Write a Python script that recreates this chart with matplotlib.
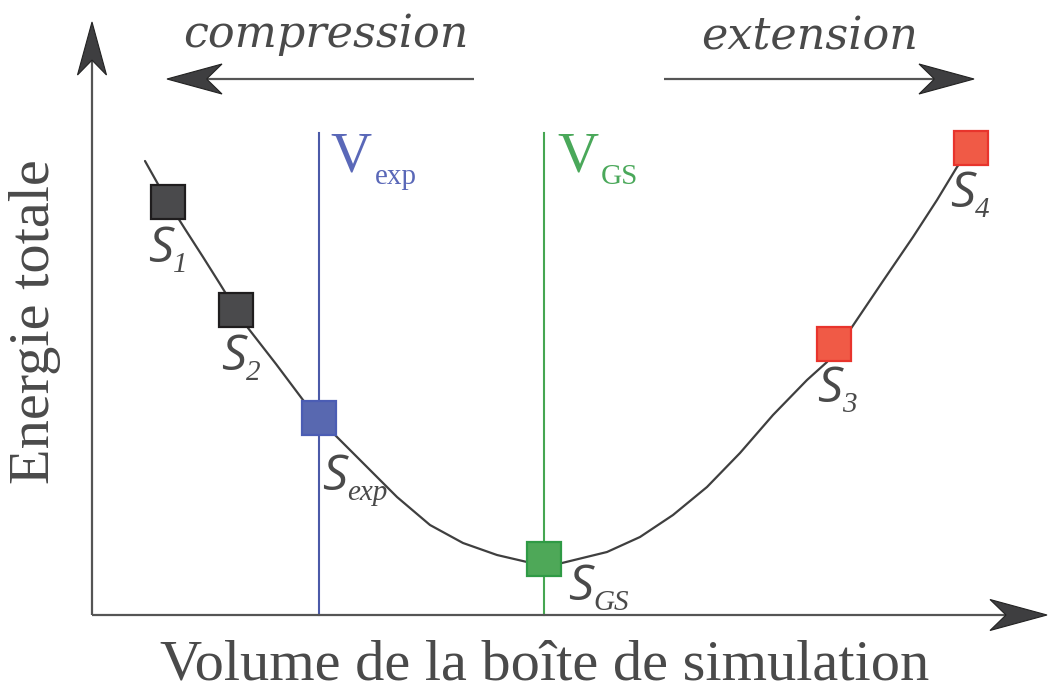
import matplotlib
matplotlib.use("Agg")
import matplotlib.pyplot as plt
from matplotlib.patches import Polygon
import numpy as np

# ---------------- data (arbitrary units) ----------------
state_labels = ["1", "2", "exp", "GS", "3", "4"]
state_volume = [0.76, 1.44, 2.27, 4.52, 7.42, 8.79]
state_energy = [4.13, 3.05, 1.97, 0.56, 2.71, 4.67]
state_fill = ["#4a4a4c", "#4a4a4c", "#5868b0", "#4ea858", "#f05a46", "#f05a46"]
state_edge = ["#1f1d1e", "#1f1d1e", "#4b5db4", "#2f9a45", "#e8342c", "#e8342c"]

curve_volume = [0.53, 0.76, 0.93, 1.11, 1.28, 1.44, 1.56, 1.84, 2.11, 2.27,
                2.43, 2.71, 3.05, 3.38, 3.71, 4.05, 4.35, 4.52, 4.70, 5.15,
                5.48, 5.81, 6.15, 6.48, 6.81, 7.15, 7.35, 7.60, 7.91, 8.21,
                8.45, 8.65, 8.79]
curve_energy = [4.54, 4.13, 3.86, 3.58, 3.31, 3.05, 2.87, 2.51, 2.15, 1.97,
                1.80, 1.52, 1.18, 0.90, 0.72, 0.60, 0.53, 0.51, 0.52, 0.63,
                0.78, 1.00, 1.28, 1.62, 2.00, 2.35, 2.53, 2.88, 3.34, 3.78,
                4.15, 4.48, 4.67]

v_exp = 2.27
v_gs = 4.52
v_line_top = 4.82

TXT = "#4a4a4a"
BLUE = "#4b5aa8"
GREEN = "#46a652"
HEAD = "#3e3e40"

W, H = 1050, 689
fig = plt.figure(figsize=(W / 100, H / 100), dpi=100)
ox, oy = 92, 615
ax = fig.add_axes([ox / W, (H - oy) / H, (W - ox) / W, oy / H])
ax.set_xlim(0, (W - ox) / 100)
ax.set_ylim(0, oy / 100)
ax.axis("off")


def arrow(x0, y0, x1, y1, hl, hw):
    """Line with dart-shaped head, lengths in data units."""
    d = np.array([x1 - x0, y1 - y0], float)
    L = np.hypot(*d)
    u = d / L
    n = np.array([-u[1], u[0]])
    tip = np.array([x1, y1])
    back = tip - u * hl
    notch = tip - u * hl * 0.72
    ax.plot([x0, notch[0]], [y0, notch[1]], color="#555555", lw=1.6,
            solid_capstyle="butt", clip_on=False, zorder=2)
    pts = [tip, back + n * hw / 2, notch, back - n * hw / 2]
    ax.add_patch(Polygon(pts, closed=True, facecolor=HEAD, edgecolor="#222222",
                         lw=0.8, clip_on=False, zorder=3, joinstyle="miter"))


# axes arrows
arrow(0, 0, 9.55, 0, 0.57, 0.31)
arrow(0, 0, 0, 5.93, 0.53, 0.29)
# compression / extension arrows
arrow(3.82, 5.36, 0.75, 5.36, 0.55, 0.30)
arrow(5.72, 5.36, 8.82, 5.36, 0.55, 0.30)

# vertical lines
ax.plot([v_exp, v_exp], [0, v_line_top], color=BLUE, lw=1.5, zorder=1, clip_on=False)
ax.plot([v_gs, v_gs], [0, v_line_top], color=GREEN, lw=1.5, zorder=1, clip_on=False)

# curve
ax.plot(curve_volume, curve_energy, color="#3f3f3f", lw=1.6, zorder=2,
        clip_on=False, solid_joinstyle="round", solid_capstyle="round")

# states
for v, e, fc, ec in zip(state_volume, state_energy, state_fill, state_edge):
    ax.plot([v], [e], "s", ms=24, mfc=fc, mec=ec, mew=1.6, zorder=4, clip_on=False)


def sub_label(x, y, main, sub, color, main_font, main_style, main_size,
              sub_font, sub_style, sub_size, drop, gap=0):
    t = ax.text(x, y, main, fontsize=main_size, family=main_font, style=main_style,
                color=color, ha="left", va="baseline", clip_on=False, zorder=5)
    ax.annotate(sub, xy=(1, 0), xycoords=t, xytext=(gap, -drop),
                textcoords="offset points", fontsize=sub_size, family=sub_font,
                style=sub_style, color=color, ha="left", va="baseline",
                annotation_clip=False, zorder=5)


label_offsets = [(-0.20, -0.60), (-0.15, -0.60), (0.03, -0.72), (0.24, -0.41),
                 (-0.17, -0.58), (-0.21, -0.59)]
for lab, v, e, (dx, dy) in zip(state_labels, state_volume, state_energy, label_offsets):
    sub_label(v + dx, e + dy, "S", lab, TXT, "Open Sans", "italic", 36,
              "Liberation Serif", "italic", 21, -1.4, gap=0)

# V labels
sub_label(v_exp + 0.115, 4.43, "V", "exp", "#5a68b8", "Liberation Serif", "normal", 41,
          "Liberation Serif", "normal", 21, -0.3, gap=2)
sub_label(v_gs + 0.13, 4.43, "V", "GS", "#4aa85a", "Liberation Serif", "normal", 41,
          "Liberation Serif", "normal", 21, -0.3, gap=2)

# direction texts
ax.text(2.34, 5.68, "compression", fontsize=32, style="italic",
        family="DejaVu Serif", color=TXT, ha="center", va="baseline")
ax.text(7.18, 5.65, "extension", fontsize=32, style="italic",
        family="DejaVu Serif", color=TXT, ha="center", va="baseline")

# axis titles
ax.text(4.53, -0.64, "Volume de la boîte de simulation", fontsize=42,
        family="Liberation Serif", color=TXT, ha="center", va="baseline")
ax.text(-0.57, 2.93, "Energie totale", fontsize=42, rotation=90,
        family="Liberation Serif", color=TXT, ha="center", va="center")

fig.savefig("out.png", dpi=100, facecolor="white")
